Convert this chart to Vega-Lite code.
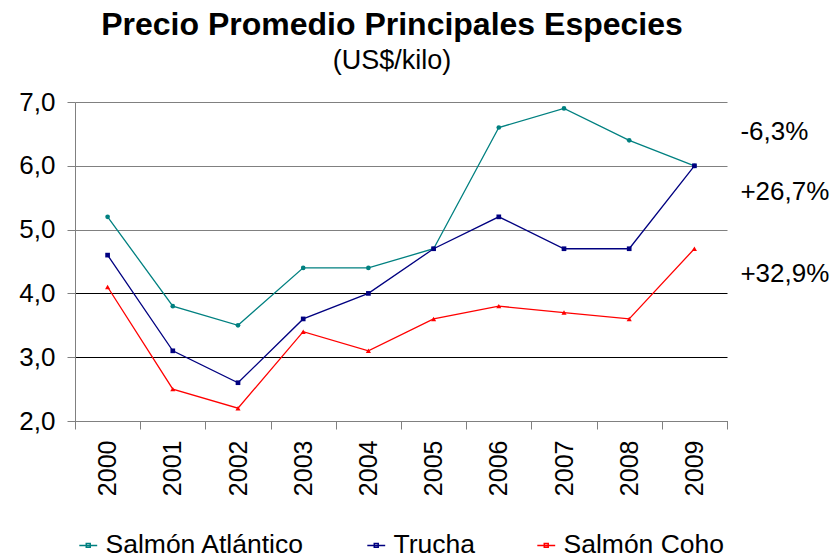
{
  "$schema": "https://vega.github.io/schema/vega-lite/v6.json",
  "width": 652,
  "height": 319,
  "autosize": {"type": "none"},
  "padding": {"top": 102, "left": 75, "right": 107, "bottom": 137},
  "background": "white",
  "config": {"view": {"stroke": null}, "font": "Liberation Sans"},
  "title": {
    "text": "Precio Promedio Principales Especies",
    "subtitle": "(US$/kilo)",
    "font": "Liberation Sans",
    "fontSize": 32,
    "fontWeight": "bold",
    "color": "black",
    "subtitleFont": "Liberation Sans",
    "subtitleFontSize": 27,
    "subtitleColor": "black",
    "subtitlePadding": 6,
    "anchor": "middle",
    "dx": -9,
    "offset": 14
  },
  "datasets": {
    "precios": [
      {"year": "2000", "species": "Salmón Atlántico", "price": 5.2},
      {"year": "2001", "species": "Salmón Atlántico", "price": 3.8},
      {"year": "2002", "species": "Salmón Atlántico", "price": 3.5},
      {"year": "2003", "species": "Salmón Atlántico", "price": 4.4},
      {"year": "2004", "species": "Salmón Atlántico", "price": 4.4},
      {"year": "2005", "species": "Salmón Atlántico", "price": 4.7},
      {"year": "2006", "species": "Salmón Atlántico", "price": 6.6},
      {"year": "2007", "species": "Salmón Atlántico", "price": 6.9},
      {"year": "2008", "species": "Salmón Atlántico", "price": 6.4},
      {"year": "2009", "species": "Salmón Atlántico", "price": 6.0},
      {"year": "2000", "species": "Trucha", "price": 4.6},
      {"year": "2001", "species": "Trucha", "price": 3.1},
      {"year": "2002", "species": "Trucha", "price": 2.6},
      {"year": "2003", "species": "Trucha", "price": 3.6},
      {"year": "2004", "species": "Trucha", "price": 4.0},
      {"year": "2005", "species": "Trucha", "price": 4.7},
      {"year": "2006", "species": "Trucha", "price": 5.2},
      {"year": "2007", "species": "Trucha", "price": 4.7},
      {"year": "2008", "species": "Trucha", "price": 4.7},
      {"year": "2009", "species": "Trucha", "price": 6.0},
      {"year": "2000", "species": "Salmón Coho", "price": 4.1},
      {"year": "2001", "species": "Salmón Coho", "price": 2.5},
      {"year": "2002", "species": "Salmón Coho", "price": 2.2},
      {"year": "2003", "species": "Salmón Coho", "price": 3.4},
      {"year": "2004", "species": "Salmón Coho", "price": 3.1},
      {"year": "2005", "species": "Salmón Coho", "price": 3.6},
      {"year": "2006", "species": "Salmón Coho", "price": 3.8},
      {"year": "2007", "species": "Salmón Coho", "price": 3.7},
      {"year": "2008", "species": "Salmón Coho", "price": 3.6},
      {"year": "2009", "species": "Salmón Coho", "price": 4.7}
    ],
    "variaciones": [
      {"year": "2009", "label": "-6,3%", "pos": 6.53},
      {"year": "2009", "label": "+26,7%", "pos": 5.59},
      {"year": "2009", "label": "+32,9%", "pos": 4.3}
    ]
  },
  "encoding": {
    "x": {
      "field": "year",
      "type": "ordinal",
      "scale": {"type": "band", "paddingInner": 0, "paddingOuter": 0},
      "axis": {
        "title": null,
        "labelAngle": 270,
        "labelAlign": "right",
        "labelBaseline": "middle",
        "labelFontSize": 25,
        "labelColor": "black",
        "labelFont": "Liberation Sans",
        "labelPadding": 11,
        "tickSize": 8,
        "tickBand": "extent",
        "tickColor": "#808080",
        "domainColor": "#808080",
        "grid": false
      }
    }
  },
  "layer": [
    {
      "data": {"name": "precios"},
      "mark": {"type": "line", "strokeWidth": 1.3},
      "encoding": {
        "y": {
          "field": "price",
          "type": "quantitative",
          "scale": {"domain": [2, 7], "nice": false, "zero": false},
          "axis": {
            "title": null,
            "values": [2, 3, 4, 5, 6, 7],
            "labelExpr": "replace(format(datum.value, '.1f'), '.', ',')",
            "labelFontSize": 26,
            "labelColor": "black",
            "labelFont": "Liberation Sans",
            "labelPadding": 12,
            "tickSize": 8,
            "tickColor": "#808080",
            "domainColor": "#808080",
            "grid": true,
            "gridColor": {"condition": {"test": "datum.value >= 5", "value": "#808080"}, "value": "#000000"},
            "gridOpacity": 1,
            "gridWidth": 1.2
          }
        },
        "color": {
          "field": "species",
          "type": "nominal",
          "scale": {
            "domain": ["Salmón Atlántico", "Trucha", "Salmón Coho"],
            "range": ["#008080", "#000080", "#FF0000"]
          },
          "legend": {
            "title": null,
            "orient": "none",
            "direction": "horizontal",
            "legendX": 0,
            "legendY": 430,
            "padding": 0,
            "labelFontSize": 26.5,
            "labelFont": "Liberation Sans",
            "labelColor": "black",
            "labelLimit": 400,
            "labelOffset": 4,
            "columnPadding": 58,
            "symbolType": "M-1,0H1M-0.22,-0.22H0.22V0.22H-0.22Z",
            "symbolSize": 320,
            "symbolStrokeWidth": 1.5
          }
        }
      }
    },
    {
      "data": {"name": "precios"},
      "transform": [{"filter": "datum.species == 'Salmón Atlántico'"}],
      "mark": {"type": "point", "filled": true, "opacity": 1, "shape": "circle", "color": "#008080", "size": 22},
      "encoding": {
        "y": {"field": "price", "type": "quantitative"}
      }
    },
    {
      "data": {"name": "precios"},
      "transform": [{"filter": "datum.species == 'Trucha'"}],
      "mark": {"type": "point", "filled": true, "opacity": 1, "shape": "square", "color": "#000080", "size": 22},
      "encoding": {
        "y": {"field": "price", "type": "quantitative"}
      }
    },
    {
      "data": {"name": "precios"},
      "transform": [{"filter": "datum.species == 'Salmón Coho'"}],
      "mark": {"type": "point", "filled": true, "opacity": 1, "shape": "triangle-up", "color": "#FF0000", "size": 26},
      "encoding": {
        "y": {"field": "price", "type": "quantitative"}
      }
    },
    {
      "data": {"name": "variaciones"},
      "mark": {"type": "text", "align": "left", "baseline": "middle", "dx": 46, "fontSize": 26, "font": "Liberation Sans", "color": "black"},
      "encoding": {
        "y": {"field": "pos", "type": "quantitative"},
        "text": {"field": "label", "type": "nominal"}
      }
    }
  ]
}
